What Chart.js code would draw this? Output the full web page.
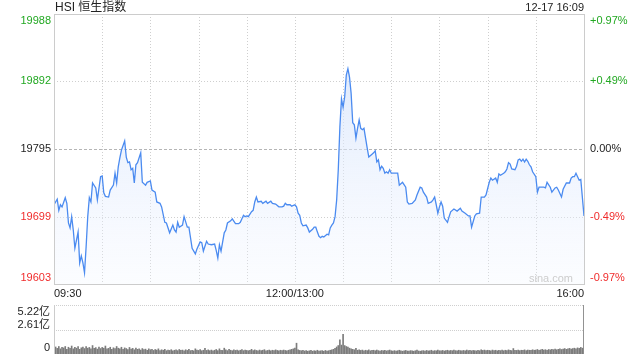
<!DOCTYPE html>
<html><head><meta charset="utf-8">
<script src="https://cdn.jsdelivr.net/npm/chart.js@4/dist/chart.umd.min.js"></script>
<style>
html,body{margin:0;padding:0;background:#fff;width:640px;height:360px;overflow:hidden}
#c1{position:absolute;left:0;top:0}
#c2{position:absolute;left:0;top:300px}
</style></head><body>
<canvas id="c1" width="640" height="300"></canvas>
<canvas id="c2" width="640" height="60"></canvas>
<script>
// ---- data ----
const title = 'HSI 恒生指数';
const stamp = '12-17 16:09';
const priceTicks = [19988, 19892, 19795, 19699, 19603];
const pctTicks = ['+0.97%', '+0.49%', '0.00%', '-0.49%', '-0.97%'];
const timeTicks = [[0, '09:30'], [150, '12:00/13:00'], [330, '16:00']];
const gridMinutes = [30, 60, 90, 120, 150, 180, 210, 240, 270, 300];
const volTicks = [5.22, 2.61, 0];
const volTickLabels = ['5.22亿', '2.61亿', '0'];

const minutes = [0,2,3,4,5,7,8,9,10,11,12,13,15,16,17,18,19,20,21,22,23,24,26,27,29,30,31,32,34,35,37,38,39,40,41,42,44,45,46,47,48,49,50,51,52,54,55,57,58,60,61,63,64,66,67,69,70,72,74,75,76,77,78,80,81,83,84,86,88,89,91,92,93,95,96,98,100,101,102,103,104,106,107,108,110,111,113,115,116,118,119,120,121,123,124,125,126,127,129,130,132,133,135,136,138,140,142,143,144,145,147,148,150,151,152,153,154,155,157,158,159,161,162,163,164,165,166,167,168,170,171,172,173,174,175,176,177,178,179,180,181,182,183,184,185,186,187,188,189,190,191,192,193,194,195,196,198,199,200,201,202,203,204,205,206,207,208,209,210,212,214,215,216,217,219,220,221,223,225,226,228,229,230,232,233,235,236,237,238,239,240,241,242,243,245,246,247,249,251,253,254,256,258,259,260,262,263,265,266,268,269,271,272,273,275,276,277,278,280,281,282,283,284,285,287,288,289,290,291,292,293,294,295,296,297,298,300,301,302,303,305,306,307,309,310,312,313,314,316,317,319,320,321,322,323,324,325,326,327,328,330];
const prices = [19716,19724,19708,19716,19713,19726,19718,19690,19683,19699,19680,19654,19677,19633,19643,19633,19619,19656,19699,19726,19720,19747,19740,19723,19756,19757,19733,19728,19727,19737,19744,19761,19747,19770,19783,19794,19807,19784,19776,19777,19766,19768,19747,19773,19776,19790,19748,19744,19748,19750,19737,19734,19720,19718,19713,19691,19690,19676,19687,19680,19677,19691,19684,19687,19699,19684,19684,19654,19646,19653,19663,19662,19650,19664,19660,19659,19660,19651,19640,19659,19650,19676,19680,19690,19693,19696,19689,19689,19691,19701,19699,19700,19699,19706,19708,19720,19727,19720,19721,19718,19721,19718,19721,19718,19717,19713,19713,19714,19718,19716,19716,19714,19716,19713,19704,19701,19690,19686,19687,19683,19677,19681,19684,19684,19677,19671,19669,19671,19670,19674,19673,19683,19687,19690,19699,19723,19766,19827,19867,19855,19870,19901,19910,19898,19875,19833,19830,19811,19825,19837,19825,19823,19825,19811,19797,19784,19788,19790,19793,19777,19780,19766,19771,19768,19761,19763,19761,19766,19761,19761,19761,19744,19746,19748,19741,19720,19717,19718,19723,19730,19741,19740,19734,19727,19718,19720,19723,19727,19716,19704,19713,19720,19714,19697,19691,19699,19706,19710,19707,19711,19707,19704,19700,19700,19684,19700,19703,19704,19727,19727,19730,19748,19754,19751,19754,19748,19760,19758,19761,19763,19767,19776,19774,19767,19766,19771,19780,19781,19778,19781,19777,19781,19778,19773,19770,19763,19756,19734,19741,19741,19741,19740,19748,19741,19734,19740,19741,19737,19727,19738,19747,19747,19747,19754,19756,19756,19761,19756,19751,19752,19700];

// volume per trading minute (亿), index = minute
const volumes = [2.45,
0.75,0.6,0.8,0.55,0.7,0.65,0.8,0.5,0.72,0.6,0.85,0.55,0.7,0.62,0.78,0.5,0.66,0.74,0.58,0.8,
0.62,0.7,0.55,0.9,0.6,0.68,0.52,0.75,0.58,0.7,0.62,0.85,0.55,0.6,0.72,0.5,0.66,0.58,0.8,0.62,
0.55,0.72,0.5,0.65,0.58,0.48,0.7,0.52,0.6,0.45,0.62,0.5,0.55,0.42,0.58,0.48,0.52,0.4,0.55,0.46,
0.5,0.38,0.48,0.42,0.55,0.36,0.45,0.4,0.5,0.35,0.42,0.38,0.46,0.34,0.4,0.44,0.36,0.48,0.38,0.42,
0.35,0.45,0.38,0.5,0.36,0.4,0.34,0.55,0.42,0.38,0.46,0.35,0.4,0.6,0.38,0.44,0.36,0.42,0.34,0.4,
0.48,0.36,0.55,0.4,0.38,0.62,0.44,0.36,0.5,0.4,0.35,0.45,0.38,0.42,0.34,0.4,0.48,0.36,0.42,0.38,
0.35,0.4,0.5,0.36,0.44,0.38,0.34,0.42,0.36,0.4,0.46,0.35,0.38,0.42,0.34,0.4,0.36,0.44,0.38,0.35,
0.4,0.36,0.42,0.38,0.34,0.4,0.45,0.5,0.55,0.62,
1.15,0.45,0.38,0.35,0.4,0.32,0.36,0.3,0.34,0.38,
0.3,0.35,0.32,0.4,0.3,0.34,0.36,0.3,0.38,0.32,0.35,0.4,0.45,0.5,0.6,0.75,
0.9,1.5,0.95,2.1,0.9,0.8,0.75,0.62,0.55,0.5,0.45,0.6,0.4,0.45,
0.38,0.42,0.35,0.4,0.36,0.44,0.34,0.38,0.4,0.35,0.42,0.36,0.32,0.38,0.35,0.4,0.33,0.37,0.42,0.35,
0.32,0.36,0.3,0.35,0.4,0.33,0.3,0.34,0.38,0.32,0.3,0.36,0.33,0.3,0.35,0.42,0.32,0.3,0.34,0.36,
0.3,0.38,0.33,0.35,0.4,0.32,0.36,0.34,0.42,0.35,0.33,0.38,0.32,0.36,0.4,0.34,0.38,0.35,0.42,0.36,
0.34,0.4,0.36,0.33,0.38,0.35,0.42,0.36,0.4,0.34,0.38,0.36,0.33,0.4,0.35,0.45,0.38,0.42,0.36,0.4,
0.38,0.35,0.42,0.36,0.4,0.34,0.38,0.36,0.42,0.35,0.4,0.37,0.44,0.38,0.36,0.58,0.4,0.38,0.42,0.36,
0.4,0.38,0.44,0.36,0.42,0.4,0.38,0.45,0.4,0.42,0.48,0.4,0.44,0.5,0.42,0.46,0.4,0.48,0.44,0.5,
0.46,0.52,0.45,0.5,0.55,0.48,0.52,0.58,0.5,0.55,0.6,0.52,0.58,0.62,0.55,0.65,0.6,0.7,0.62,
5.22];

// ---- styling ----
const FONT = '"Liberation Sans", Arial, "Noto Sans CJK SC", sans-serif';
const GREEN = '#22a822', RED = '#f02c2c', DARK = '#222222';
const tickColors = [GREEN, GREEN, DARK, RED, RED];

function dotted(ctx, x1, y1, x2, y2, color, dash) {
  ctx.save();
  ctx.strokeStyle = color; ctx.lineWidth = 1; ctx.setLineDash(dash);
  ctx.beginPath(); ctx.moveTo(x1, y1); ctx.lineTo(x2, y2); ctx.stroke();
  ctx.restore();
}

const mainDeco = {
  id: 'mainDeco',
  beforeDatasetsDraw(chart) {
    const {ctx, chartArea: a, scales: {x, y}} = chart;
    gridMinutes.forEach(m => {
      const px = Math.round(x.getPixelForValue(m)) + 0.5;
      dotted(ctx, px, a.top, px, a.bottom, '#cfcfcf', [1, 2]);
    });
    priceTicks.slice(1, 4).forEach((v, i) => {
      const py = Math.round(y.getPixelForValue(v)) + 0.5;
      if (i === 1) dotted(ctx, a.left, py, a.right, py, '#b5b5b5', [3, 2]);
      else dotted(ctx, a.left, py, a.right, py, '#cfcfcf', [1, 2]);
    });
  },
  afterDraw(chart) {
    const {ctx, chartArea: a, scales: {x, y}} = chart;
    ctx.save();
    ctx.strokeStyle = '#cccccc'; ctx.lineWidth = 1;
    ctx.strokeRect(Math.round(a.left) + 0.5, Math.round(a.top) + 0.5,
                   Math.round(a.right - a.left), Math.round(a.bottom - a.top));
    ctx.font = '11px ' + FONT;
    priceTicks.forEach((v, i) => {
      let py = y.getPixelForValue(v), base = 'middle';
      if (i === 0) { py = a.top + 1; base = 'top'; }
      if (i === priceTicks.length - 1) { py = a.bottom - 1; base = 'bottom'; }
      ctx.textBaseline = base;
      ctx.fillStyle = tickColors[i];
      ctx.textAlign = 'right';
      ctx.fillText(String(v), a.left - 3, py);
      ctx.textAlign = 'left';
      ctx.fillText(pctTicks[i], a.right + 6, py);
    });
    ctx.fillStyle = DARK; ctx.textBaseline = 'middle';
    timeTicks.forEach(([m, t], i) => {
      ctx.textAlign = i === 0 ? 'left' : (i === timeTicks.length - 1 ? 'right' : 'center');
      ctx.fillText(t, x.getPixelForValue(m), a.bottom + 9.5);
    });
    ctx.font = '12px ' + FONT; ctx.textAlign = 'left';
    ctx.fillText(title, a.left + 1, 7.5);
    ctx.font = '11px ' + FONT; ctx.textAlign = 'right';
    ctx.fillText(stamp, a.right, 7.5);
    ctx.fillStyle = '#cdcdcd';
    ctx.fillText('sina.com', a.right - 11, a.bottom - 5);
    ctx.restore();
  }
};

new Chart(document.getElementById('c1'), {
  type: 'line',
  data: {
    datasets: [{
      data: minutes.map((m, i) => ({x: m, y: prices[i]})),
      borderColor: '#4b8bf0',
      borderWidth: 1.3,
      pointRadius: 0,
      tension: 0,
      fill: 'start',
      backgroundColor: (c) => {
        const a = c.chart.chartArea;
        if (!a) return 'rgba(220,232,252,0.6)';
        const g = c.chart.ctx.createLinearGradient(0, a.top, 0, a.bottom);
        g.addColorStop(0, 'rgba(205,222,250,0.85)');
        g.addColorStop(1, 'rgba(240,245,255,0.25)');
        return g;
      }
    }]
  },
  options: {
    responsive: false, animation: false, devicePixelRatio: 1,
    layout: {padding: {left: 54, right: 56, top: 14, bottom: 16}},
    plugins: {legend: {display: false}, tooltip: {enabled: false}},
    scales: {
      x: {type: 'linear', min: 0, max: 330, display: false},
      y: {type: 'linear', min: priceTicks[4], max: priceTicks[0], display: false}
    }
  },
  plugins: [mainDeco]
});

const volDeco = {
  id: 'volDeco',
  beforeDatasetsDraw(chart) {
    const {ctx, chartArea: a, scales: {y}} = chart;
    volTicks.slice(0, 2).forEach(v => {
      const py = Math.round(y.getPixelForValue(v)) + 0.5;
      dotted(ctx, a.left, py, a.right, py, '#cfcfcf', [1, 1]);
    });
  },
  afterDraw(chart) {
    const {ctx, chartArea: a, scales: {y}} = chart;
    ctx.save();
    ctx.strokeStyle = '#cccccc'; ctx.lineWidth = 1;
    ctx.beginPath();
    const lx = Math.round(a.left) + 0.5;
    ctx.moveTo(lx, Math.round(a.top)); ctx.lineTo(lx, Math.round(a.bottom));
    ctx.stroke();
    ctx.font = '11px ' + FONT; ctx.fillStyle = DARK; ctx.textAlign = 'right';
    ctx.textBaseline = 'middle';
    const offs = [7, -5, -6];
    volTicks.forEach((v, i) => {
      ctx.fillText(volTickLabels[i], a.left - 4, y.getPixelForValue(v) + offs[i]);
    });
    ctx.restore();
  }
};

new Chart(document.getElementById('c2'), {
  type: 'bar',
  data: {
    datasets: [{
      data: volumes.map((v, i) => ({x: i, y: v})),
      backgroundColor: '#7c7c7c',
      barThickness: 1,
      borderWidth: 0
    }]
  },
  options: {
    responsive: false, animation: false, devicePixelRatio: 1,
    layout: {padding: {left: 54, right: 56, top: 5, bottom: 6}},
    plugins: {legend: {display: false}, tooltip: {enabled: false}},
    scales: {
      x: {type: 'linear', min: 0, max: 330, offset: false, display: false},
      y: {type: 'linear', min: 0, max: volTicks[0], display: false}
    }
  },
  plugins: [volDeco]
});
</script>
</body></html>
